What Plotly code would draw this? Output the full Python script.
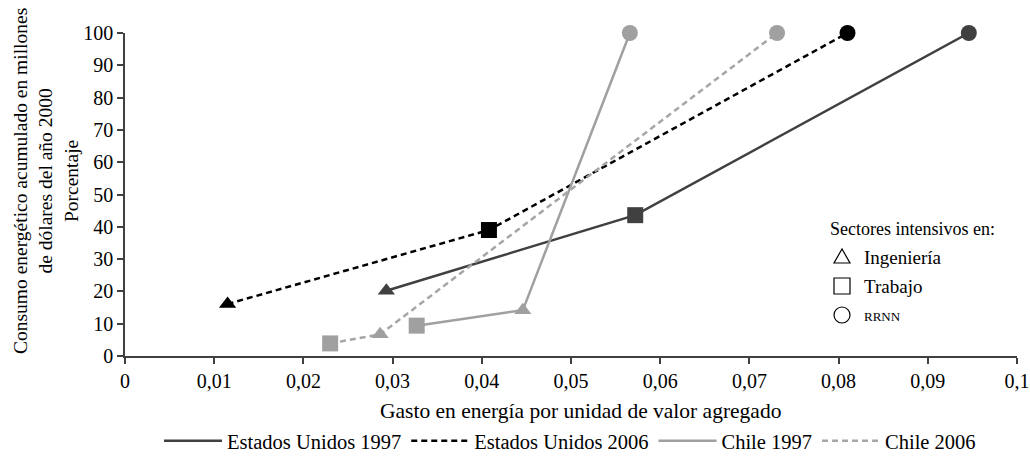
import plotly.graph_objects as go

# Sector order along each curve: triangle = Ingeniería, square = Trabajo, circle = RRNN
series_names = ["Estados Unidos 1997", "Estados Unidos 2006", "Chile 1997", "Chile 2006"]

us97_x = [0.0293, 0.0572, 0.0946]
us97_y = [20.2, 43.6, 100]
us97_sym = ["triangle-up", "square", "circle"]

us06_x = [0.0115, 0.0408, 0.0810]
us06_y = [16.1, 39.0, 100]
us06_sym = ["triangle-up", "square", "circle"]

cl97_x = [0.0327, 0.0446, 0.0566]
cl97_y = [9.4, 14.2, 100]
cl97_sym = ["square", "triangle-up", "circle"]

cl06_x = [0.0230, 0.0286, 0.0731]
cl06_y = [3.9, 6.7, 100]
cl06_sym = ["square", "triangle-up", "circle"]

x_ticks = [0, 0.01, 0.02, 0.03, 0.04, 0.05, 0.06, 0.07, 0.08, 0.09, 0.1]
x_ticktext = ["0", "0,01", "0,02", "0,03", "0,04", "0,05", "0,06", "0,07", "0,08", "0,09", "0,1"]
y_ticks = [0, 10, 20, 30, 40, 50, 60, 70, 80, 90, 100]

key_title = "Sectores intensivos en:"
key_labels = ["Ingeniería", "Trabajo", "RRNN"]

FONT = "Liberation Serif, Times New Roman, serif"
DARK = "#404040"
GREY = "#a0a0a0"

styles = [
    dict(color=DARK, dash="solid", mcolor=DARK),
    dict(color="#000000", dash="6px,4px", mcolor="#000000"),
    dict(color=GREY, dash="solid", mcolor=GREY),
    dict(color="#a6a6a6", dash="6px,4px", mcolor=GREY),
]
data = [(us97_x, us97_y, us97_sym), (us06_x, us06_y, us06_sym),
        (cl97_x, cl97_y, cl97_sym), (cl06_x, cl06_y, cl06_sym)]

size_map = {"triangle-up": 15, "square": 16, "circle": 16}

fig = go.Figure()
for name, (xs, ys, syms), st in zip(series_names, data, styles):
    fig.add_trace(go.Scatter(
        x=xs, y=ys, mode="lines", name=name,
        line=dict(color=st["color"], width=2.5, dash=st["dash"]),
        cliponaxis=False, showlegend=True,
    ))
    fig.add_trace(go.Scatter(
        x=xs, y=ys, mode="markers", showlegend=False, hoverinfo="skip",
        marker=dict(symbol=syms, size=[size_map[s] for s in syms], opacity=1,
                    color=st["mcolor"], line=dict(width=0)),
        cliponaxis=False,
    ))

# plot area geometry in pixels (for placing the sector key)
L, R, T, B, W, H = 125, 13, 33, 100, 1030, 456
pw, ph = W - L - R, H - T - B


def px(xp):
    return (xp - L) / pw


def py(yp):
    return (H - B - yp) / ph


annotations = [
    dict(text="Consumo energético acumulado en millones<br>de dólares del año 2000<br>Porcentaje",
         xref="paper", yref="paper", x=0, y=py(181), xshift=-79, xanchor="center",
         yanchor="middle", textangle=-90, showarrow=False,
         font=dict(family=FONT, size=19.5, color="#000")),
    dict(text="Gasto en energía por unidad de valor agregado",
         xref="paper", yref="paper", x=px(580), y=py(411), xanchor="center", yanchor="middle",
         showarrow=False, font=dict(family=FONT, size=21.5, color="#000")),
    dict(text=key_title, xref="paper", yref="paper", x=px(912), y=py(229),
         xanchor="center", yanchor="middle", showarrow=False,
         font=dict(family=FONT, size=18, color="#000")),
]
row_y = [257, 286, 316]
label_sizes = [19, 19, 13]
for lab, ry, fs in zip(key_labels, row_y, label_sizes):
    annotations.append(dict(text=lab, xref="paper", yref="paper", x=px(862), y=py(ry),
                            xanchor="left", yanchor="middle", showarrow=False,
                            font=dict(family=FONT, size=fs, color="#000")))

sx = px(842)
shapes = [
    dict(type="path", xref="paper", yref="paper", xsizemode="pixel", ysizemode="pixel",
         xanchor=sx, yanchor=py(257), path="M -8,-6 L 8,-6 L 0,8 Z",
         line=dict(color="#000", width=1.2), fillcolor="rgba(0,0,0,0)"),
    dict(type="rect", xref="paper", yref="paper", xsizemode="pixel", ysizemode="pixel",
         xanchor=sx, yanchor=py(286), x0=-8, x1=8, y0=-8, y1=8,
         line=dict(color="#000", width=1.2)),
    dict(type="circle", xref="paper", yref="paper", xsizemode="pixel", ysizemode="pixel",
         xanchor=sx, yanchor=py(315), x0=-8, x1=8, y0=-8, y1=8,
         line=dict(color="#000", width=1.2)),
]

fig.update_layout(
    width=W, height=H,
    margin=dict(l=L, r=R, t=T, b=B, autoexpand=False),
    paper_bgcolor="white", plot_bgcolor="white",
    font=dict(family=FONT, size=20, color="#000"),
    showlegend=True,
    legend=dict(orientation="h", x=px(570), xanchor="center", y=py(441), yanchor="middle",
                font=dict(family=FONT, size=20.5, color="#000"), itemwidth=58,
                bgcolor="rgba(0,0,0,0)", tracegroupgap=0),
    annotations=annotations,
    shapes=shapes,
    xaxis=dict(range=[0, 0.1], tickvals=x_ticks, ticktext=x_ticktext, automargin=False,
               showgrid=False, zeroline=False, showline=True, linecolor=DARK, linewidth=1.5,
               ticks="outside", ticklen=6, tickcolor=DARK, tickwidth=1.5,
               tickfont=dict(family=FONT, size=20, color="#000")),
    yaxis=dict(range=[0, 100], tickvals=y_ticks, automargin=False,
               showgrid=False, zeroline=False, showline=True, linecolor=DARK, linewidth=1.5,
               ticks="outside", ticklen=6, tickcolor=DARK, tickwidth=1.5,
               tickfont=dict(family=FONT, size=20, color="#000")),
)

fig.write_html("out.html")
